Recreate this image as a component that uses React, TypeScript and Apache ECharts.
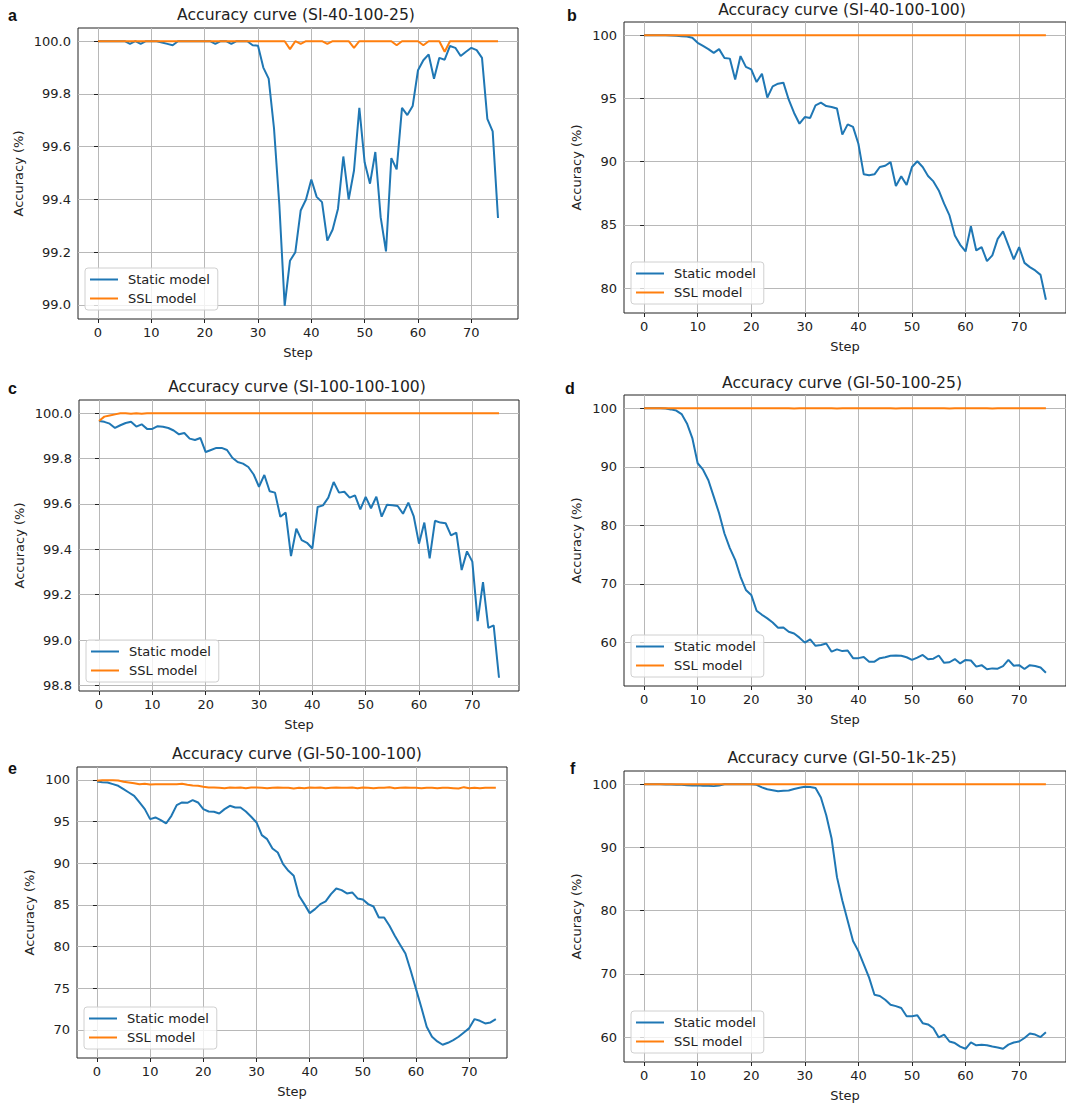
import React, { useEffect, useRef } from 'react';
import * as echarts from 'echarts';

const STEPS = Array.from({ length: 76 }, (_, i) => i);
const X_TICKS = [0, 10, 20, 30, 40, 50, 60, 70];
const SERIES_NAMES = ['Static model', 'SSL model'];

// Panel a: Accuracy curve (SI-40-100-25)
const staticA = [
  100.0, 100.0, 100.0, 100.0, 100.0, 100.0, 99.99, 100.0, 99.99, 100.0,
  100.0, 100.0, 99.995, 99.99, 99.985, 100.0, 100.0, 100.0, 100.0, 100.0,
  100.0, 100.0, 99.99, 100.0, 100.0, 99.99, 100.0, 100.0, 100.0, 99.985,
  99.983, 99.9, 99.858, 99.67, 99.38, 98.997, 99.168, 99.2, 99.358, 99.4,
  99.476, 99.41, 99.39, 99.244, 99.286, 99.365, 99.563, 99.4, 99.51, 99.747,
  99.54, 99.46, 99.58, 99.333, 99.203, 99.557, 99.514, 99.747, 99.72, 99.754,
  99.89, 99.928, 99.95, 99.858, 99.937, 99.93, 99.982, 99.975, 99.944, 99.96,
  99.975, 99.966, 99.937, 99.706, 99.658, 99.33,
];
const sslA = [
  100, 100, 100, 100, 100, 100, 100, 100, 100, 100,
  100, 100, 100, 100, 100, 100, 100, 100, 100, 100,
  100, 100, 100, 100, 100, 100, 100, 100, 100, 100,
  100, 100, 100, 100, 100, 100, 99.97, 100, 99.99, 100,
  100, 100, 100, 99.99, 100, 100, 100, 100, 99.975, 100,
  100, 100, 100, 100, 100, 100, 99.985, 100, 100, 100,
  100, 99.985, 100, 100, 100, 99.96, 100, 100, 100, 100,
  100, 100, 100, 100, 100, 100,
];

// Panel b: Accuracy curve (SI-40-100-100)
const staticB = [
  100, 100, 100, 100, 100, 99.98, 99.95, 99.92, 99.9, 99.8,
  99.4, 99.15, 98.9, 98.6, 98.9, 98.2, 98.15, 96.5, 98.35, 97.5,
  97.3, 96.3, 96.95, 95.07, 95.96, 96.17, 96.25, 94.9, 93.85, 93.0,
  93.53, 93.46, 94.46, 94.67, 94.4, 94.33, 94.2, 92.14, 92.95, 92.75,
  91.42, 89.0, 88.92, 89.0, 89.58, 89.68, 89.97, 88.07, 88.84, 88.15,
  89.58, 90.03, 89.58, 88.87, 88.44, 87.73, 86.68, 85.75, 84.17, 83.43,
  82.9, 84.9, 82.98, 83.25, 82.14, 82.59, 83.9, 84.49, 83.38, 82.27,
  83.25, 82.0, 81.66, 81.4, 81.05, 79.08,
];
const sslB = [
  100, 100, 100, 100, 100, 100, 100, 100, 100, 100,
  100, 100, 100, 100, 100, 100, 100, 100, 100, 100,
  100, 100, 100, 100, 100, 100, 100, 100, 100, 100,
  100, 100, 100, 100, 100, 100, 100, 100, 100, 100,
  100, 100, 100, 100, 100, 100, 100, 100, 100, 100,
  100, 100, 100, 100, 100, 100, 100, 100, 100, 100,
  100, 100, 100, 100, 100, 100, 100, 100, 100, 100,
  100, 100, 100, 100, 100, 100,
];

// Panel c: Accuracy curve (SI-100-100-100)
const staticC = [
  99.966, 99.962, 99.954, 99.935, 99.947, 99.957, 99.962, 99.941, 99.951, 99.931,
  99.931, 99.943, 99.94, 99.935, 99.924, 99.907, 99.913, 99.888, 99.882, 99.891,
  99.829, 99.838, 99.847, 99.847, 99.838, 99.804, 99.785, 99.778, 99.763, 99.73,
  99.676, 99.728, 99.656, 99.65, 99.544, 99.562, 99.37, 99.491, 99.441, 99.429,
  99.404, 99.587, 99.594, 99.628, 99.697, 99.65, 99.654, 99.628, 99.638, 99.576,
  99.631, 99.581, 99.632, 99.544, 99.597, 99.594, 99.591, 99.557, 99.606, 99.547,
  99.425, 99.518, 99.36, 99.526, 99.518, 99.515, 99.462, 99.474, 99.309, 99.391,
  99.346, 99.084, 99.256, 99.054, 99.065, 98.834,
];
const sslC = [
  99.966, 99.985, 99.99, 99.995, 100, 100, 99.998, 100, 99.998, 100,
  100, 100, 100, 100, 100, 100, 100, 100, 100, 100,
  100, 100, 100, 100, 100, 100, 100, 100, 100, 100,
  100, 100, 100, 100, 100, 100, 100, 100, 100, 100,
  100, 100, 100, 100, 100, 100, 100, 100, 100, 100,
  100, 100, 100, 100, 100, 100, 100, 100, 100, 100,
  100, 100, 100, 100, 100, 100, 100, 100, 100, 100,
  100, 100, 100, 100, 100, 100,
];

// Panel d: Accuracy curve (GI-50-100-25)
const staticD = [
  100, 100, 100, 100, 99.95, 99.8, 99.6, 99.0, 97.4, 94.9,
  90.6, 89.5, 87.7, 84.9, 82.05, 78.6, 76.1, 74.1, 71.2, 68.95,
  68.1, 65.4, 64.7, 64.1, 63.4, 62.5, 62.55, 61.8, 61.5, 60.8,
  59.95, 60.5, 59.4, 59.55, 59.8, 58.4, 58.8, 58.5, 58.6, 57.3,
  57.3, 57.5, 56.7, 56.7, 57.3, 57.45, 57.7, 57.75, 57.7, 57.45,
  57.0, 57.4, 57.85, 57.1, 57.2, 57.75, 56.5, 56.6, 57.15, 56.4,
  57.0, 56.9, 55.85, 56.1, 55.4, 55.55, 55.5, 55.95, 57.0, 56.0,
  56.1, 55.45, 56.1, 55.95, 55.7, 54.8,
];
const sslD = [
  100, 100, 100, 100, 100, 100, 100, 100, 100, 100,
  100, 100, 100, 100, 100, 100, 100, 100, 100, 100,
  100, 100, 100, 100, 100, 100, 100, 100, 99.95, 100,
  100, 100, 100, 100, 100, 100, 99.95, 100, 100, 100,
  100, 100, 100, 100, 100, 100, 100, 99.95, 100, 100,
  100, 100, 100, 100, 100, 100, 100, 99.95, 100, 100,
  100, 100, 100, 100, 100, 99.95, 100, 100, 100, 100,
  100, 100, 100, 100, 100, 100,
];

// Panel e: Accuracy curve (GI-50-100-100)
const staticE = [
  99.8, 99.72, 99.68, 99.48, 99.28, 98.88, 98.48, 98.08, 97.28, 96.48,
  95.28, 95.48, 95.16, 94.76, 95.68, 96.96, 97.28, 97.24, 97.56, 97.28,
  96.48, 96.2, 96.16, 95.96, 96.48, 96.88, 96.68, 96.68, 96.2, 95.56,
  94.88, 93.36, 92.88, 91.76, 91.28, 89.88, 89.08, 88.48, 86.08, 85.08,
  84.0, 84.48, 85.08, 85.4, 86.28, 86.96, 86.76, 86.36, 86.48, 85.76,
  85.64, 85.08, 84.8, 83.48, 83.48, 82.48, 81.28, 80.2, 79.16, 77.08,
  74.88, 72.68, 70.36, 69.16, 68.6, 68.2, 68.44, 68.76, 69.16, 69.68,
  70.2, 71.28, 71.08, 70.76, 70.88, 71.28,
];
const sslE = [
  99.88, 99.95, 99.95, 99.95, 99.92, 99.76, 99.68, 99.6, 99.48, 99.52,
  99.44, 99.48, 99.48, 99.46, 99.48, 99.48, 99.52, 99.4, 99.32, 99.28,
  99.16, 99.08, 99.08, 99.04, 99.0, 99.08, 99.04, 99.08, 99.0, 99.08,
  99.08, 99.04, 99.0, 99.04, 99.08, 99.04, 99.04, 98.96, 99.04, 99.0,
  99.08, 99.04, 99.08, 99.0, 99.04, 99.08, 99.04, 99.04, 99.08, 99.0,
  99.08, 99.04, 99.0, 99.04, 99.04, 99.12, 99.0, 99.04, 99.08, 99.04,
  99.04, 99.0, 99.04, 99.04, 99.0, 99.04, 99.04, 99.0, 98.96, 99.12,
  99.0, 99.04, 99.0, 99.04, 99.04, 99.04,
];

// Panel f: Accuracy curve (GI-50-1k-25)
const staticF = [
  100, 100, 100, 100, 99.95, 99.95, 99.9, 99.9, 99.85, 99.8,
  99.85, 99.75, 99.75, 99.7, 99.8, 100, 100, 100, 100, 100,
  100, 99.9, 99.5, 99.2, 99.05, 98.9, 98.95, 99.0, 99.25, 99.45,
  99.6, 99.55, 99.4, 97.9, 95.1, 91.4, 85.3, 81.6, 78.4, 75.2,
  73.6, 71.5, 69.4, 66.7, 66.5, 65.9, 65.1, 64.9, 64.6, 63.3,
  63.3, 63.45, 62.2, 62.0, 61.4, 59.95, 60.4, 59.3, 59.05, 58.5,
  58.15, 59.15, 58.7, 58.8, 58.7, 58.5, 58.35, 58.15, 58.8, 59.15,
  59.3, 59.85, 60.55, 60.4, 60.0, 60.75,
];
const sslF = [
  100, 100, 100, 100, 100, 100, 100, 100, 100, 100,
  100, 100, 100, 100, 100, 100, 100, 100, 100, 100,
  100, 100, 100, 100, 100, 100, 100, 100, 100, 100,
  100, 100, 100, 100, 100, 100, 100, 100, 100, 100,
  100, 100, 100, 100, 100, 100, 100, 100, 100, 100,
  100, 100, 100, 100, 100, 100, 100, 100, 100, 100,
  100, 100, 100, 100, 100, 100, 100, 100, 100, 100,
  100, 100, 100, 100, 100, 100,
];

const Y_TICKS_A = [99.0, 99.2, 99.4, 99.6, 99.8, 100.0];
const Y_TICKS_B = [80, 85, 90, 95, 100];
const Y_TICKS_C = [98.8, 99.0, 99.2, 99.4, 99.6, 99.8, 100.0];
const Y_TICKS_D = [60, 70, 80, 90, 100];
const Y_TICKS_E = [70, 75, 80, 85, 90, 95, 100];
const Y_TICKS_F = [60, 70, 80, 90, 100];

const TITLES = [
  'Accuracy curve (SI-40-100-25)',
  'Accuracy curve (SI-40-100-100)',
  'Accuracy curve (SI-100-100-100)',
  'Accuracy curve (GI-50-100-25)',
  'Accuracy curve (GI-50-100-100)',
  'Accuracy curve (GI-50-1k-25)',
];
const LETTERS = ['a', 'b', 'c', 'd', 'e', 'f'];

const FONT = "'DejaVu Sans', sans-serif";
const TXT = '#222';
const BLUE = '#1f77b4';
const ORANGE = '#ff7f0e';
const LEGEND_ICON = 'path://M0,0H28V2H0Z';

type Panel = {
  left: number; top: number; w: number; h: number; xMax: number;
  yTicks: number[]; dec: number; yGap: number;
  titleX: number; titleY: number; letterX: number; letterY: number;
  st: number[]; ssl: number[];
};

const PANELS: Panel[] = [
  { left: 78, top: 28, w: 440, h: 291, xMax: 78.75, yTicks: Y_TICKS_A, dec: 1, yGap: 53, titleX: 296, titleY: 15, letterX: 8, letterY: 15, st: staticA, ssl: sslA },
  { left: 624, top: 22, w: 444, h: 291, xMax: 78.75, yTicks: Y_TICKS_B, dec: 0, yGap: 41, titleX: 842, titleY: 10, letterX: 567, letterY: 15, st: staticB, ssl: sslB },
  { left: 79, top: 400, w: 440, h: 291, xMax: 78.75, yTicks: Y_TICKS_C, dec: 1, yGap: 53, titleX: 297, titleY: 387, letterX: 8, letterY: 388, st: staticC, ssl: sslC },
  { left: 624, top: 395, w: 444, h: 291, xMax: 78.75, yTicks: Y_TICKS_D, dec: 0, yGap: 41, titleX: 842, titleY: 383, letterX: 565, letterY: 388, st: staticD, ssl: sslD },
  { left: 77, top: 767, w: 430, h: 291, xMax: 77.1, yTicks: Y_TICKS_E, dec: 0, yGap: 41, titleX: 297, titleY: 754, letterX: 8, letterY: 768, st: staticE, ssl: sslE },
  { left: 624, top: 771, w: 444, h: 291, xMax: 78.75, yTicks: Y_TICKS_F, dec: 0, yGap: 41, titleX: 842, titleY: 758, letterX: 570, letterY: 768, st: staticF, ssl: sslF },
];

function yRange(a: number[], b: number[]): [number, number] {
  const all = a.concat(b);
  const mn = Math.min(...all);
  const mx = Math.max(...all);
  const pad = (mx - mn) * 0.05;
  return [mn - pad, mx + pad];
}

function buildOption() {
  const grid: any[] = [];
  const xAxis: any[] = [];
  const yAxis: any[] = [];
  const series: any[] = [];
  const legend: any[] = [];
  const graphic: any[] = [];
  const labelStyle = { fontSize: 13, color: TXT, fontFamily: FONT };

  PANELS.forEach((p, i) => {
    const [ymin, ymax] = yRange(p.st, p.ssl);
    grid.push({
      left: p.left, top: p.top, width: p.w, height: p.h,
      show: true, borderColor: '#222', borderWidth: 1, backgroundColor: 'transparent',
    });
    xAxis.push({
      type: 'value', gridIndex: i, min: -3.75, max: p.xMax,
      name: 'Step', nameLocation: 'middle', nameGap: 27,
      nameTextStyle: { ...labelStyle },
      axisLine: { show: false },
      axisTick: { show: true, inside: false, length: 4, lineStyle: { color: '#222', width: 1 }, customValues: X_TICKS },
      axisLabel: { ...labelStyle, margin: 7, customValues: X_TICKS, formatter: (v: number) => String(v) },
      splitLine: { show: true, lineStyle: { color: '#b8b8b8', width: 1 } },
    });
    yAxis.push({
      type: 'value', gridIndex: i, min: ymin, max: ymax,
      name: 'Accuracy (%)', nameLocation: 'middle', nameGap: p.yGap, nameRotate: 90,
      nameTextStyle: { ...labelStyle },
      axisLine: { show: false },
      axisTick: { show: true, inside: false, length: 4, lineStyle: { color: '#222', width: 1 }, customValues: p.yTicks },
      axisLabel: { ...labelStyle, margin: 7, customValues: p.yTicks, formatter: (v: number) => v.toFixed(p.dec) },
      splitLine: { show: true, lineStyle: { color: '#b8b8b8', width: 1 } },
    });
    series.push({
      type: 'line', name: SERIES_NAMES[0], xAxisIndex: i, yAxisIndex: i,
      data: p.st.map((v, k) => [STEPS[k], v]),
      symbol: 'none', showSymbol: false, color: BLUE, lineStyle: { color: BLUE, width: 2 }, z: 3,
    });
    series.push({
      type: 'line', name: SERIES_NAMES[1], xAxisIndex: i, yAxisIndex: i,
      data: p.ssl.map((v, k) => [STEPS[k], v]),
      symbol: 'none', showSymbol: false, color: ORANGE, lineStyle: { color: ORANGE, width: 2 }, z: 4,
    });
    legend.push({
      orient: 'vertical', left: p.left + 7, top: p.top + p.h - 7 - 44,
      data: SERIES_NAMES.map((n) => ({ name: n, icon: LEGEND_ICON })),
      itemWidth: 28, itemHeight: 14, itemGap: 6,
      padding: [5, 8, 5, 5], borderColor: '#d0d0d0', borderWidth: 1, borderRadius: 3,
      backgroundColor: 'rgba(255,255,255,0.8)', selectedMode: false,
      textStyle: { ...labelStyle, padding: [0, 0, 0, 5] },
    });
    graphic.push({
      type: 'text', x: p.titleX, y: p.titleY, z: 10,
      style: { text: TITLES[i], fontSize: 15.6, fontFamily: FONT, fill: TXT, align: 'center', verticalAlign: 'middle' },
    });
    graphic.push({
      type: 'text', x: p.letterX, y: p.letterY, z: 10,
      style: { text: LETTERS[i], fontSize: 16, fontWeight: 'bold', fontFamily: "'Liberation Sans', Arial, sans-serif", fill: '#111', align: 'left', verticalAlign: 'middle' },
    });
  });

  return { animation: false, backgroundColor: '#fff', grid, xAxis, yAxis, series, legend, graphic };
}

export default function App() {
  const ref = useRef<HTMLDivElement>(null);
  useEffect(() => {
    if (!ref.current) return;
    const chart = echarts.init(ref.current, undefined, { renderer: 'svg' });
    chart.setOption(buildOption() as any);
    return () => chart.dispose();
  }, []);
  return (
    <div
      ref={ref}
      style={{ position: 'absolute', left: 0, top: 0, width: 1066, height: 1108, overflow: 'hidden', background: '#fff' }}
    />
  );
}
